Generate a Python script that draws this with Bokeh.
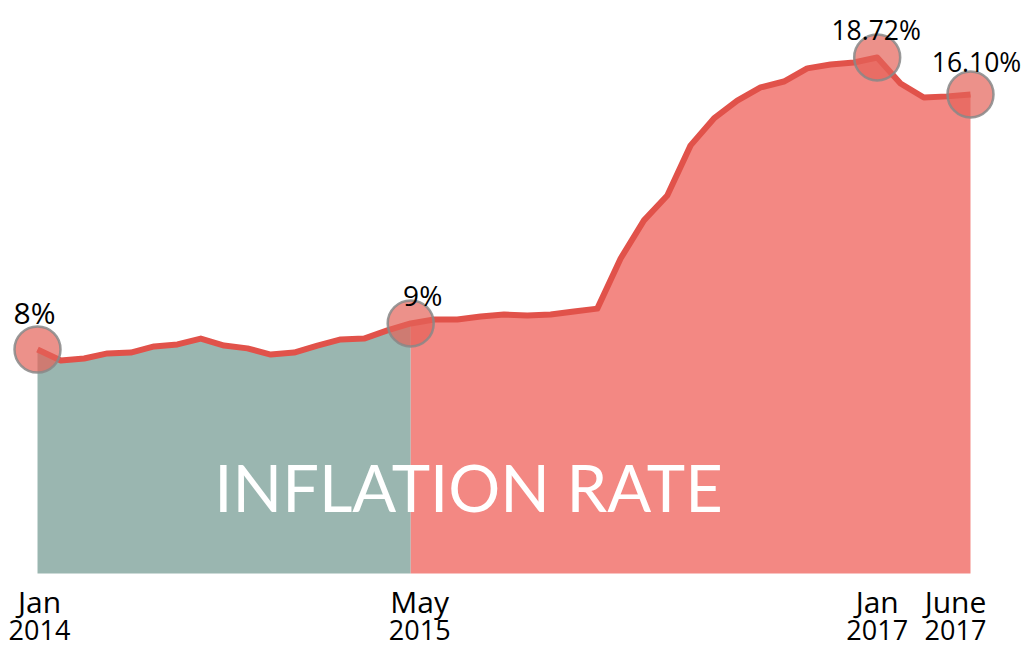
from bokeh.plotting import figure
from bokeh.models import ColumnDataSource, Label, Range1d
from bokeh.core.properties import value
from bokeh.embed import file_html
from bokeh.resources import INLINE

# ---- data ----
inflation = [8.00, 7.61, 7.68, 7.86, 7.89, 8.11, 8.18, 8.39, 8.14, 8.04,
             7.82, 7.89, 8.14, 8.36, 8.39, 8.68, 8.93, 9.07, 9.07, 9.18,
             9.25, 9.21, 9.25, 9.36, 9.46, 11.25, 12.61, 13.50, 15.29, 16.25,
             16.89, 17.36, 17.57, 18.04, 18.18, 18.25, 18.43, 17.50, 17.00, 17.04,
             17.11]
split_index = 16                       # May 2015
highlight_index = [0, 16, 36, 40]
highlight_text = ["8%", "9%", "18.72%", "16.10%"]
tick_index = [0, 16, 36, 40]
tick_month = ["Jan", "May", "Jan", "June"]
tick_year = ["2014", "2015", "2017", "2017"]
title_text = "INFLATION RATE"

x = list(range(len(inflation)))

W, H = 1027, 650
p = figure(width=W, height=H, output_backend="svg", toolbar_location=None,
           x_range=Range1d(-1.5863, 42.444), y_range=Range1d(-2.750, 20.464),
           min_border=0, outline_line_color=None, background_fill_color="white",
           border_fill_color="white")
p.axis.visible = False
p.grid.visible = False

# areas
xs_g = x[:split_index + 1]
ys_g = inflation[:split_index + 1]
xs_r = x[split_index:]
ys_r = inflation[split_index:]
p.varea(x=xs_g, y1=[0] * len(xs_g), y2=ys_g, fill_color="#9ab6b0")
p.varea(x=xs_r, y1=[0] * len(xs_r), y2=ys_r, fill_color="#f38883")

# line
p.line(x=x, y=inflation, line_color="#e1524a", line_width=6, line_join="round")

# highlighted circles
hx = highlight_index
hy = [inflation[i] for i in highlight_index]
p.scatter(x=hx, y=hy, size=46, marker="circle", fill_color="#e46258",
          fill_alpha=0.7, line_color="#888888", line_alpha=0.85, line_width=2.5)

hsrc = ColumnDataSource(dict(x=hx, y=hy, t=highlight_text,
                             xo=[-3, 12, -1, 6], yo=[-37, -28, -27, -32],
                             fs=["30px", "28px", "26.5px", "26.5px"]))
p.text(x="x", y="y", text="t", source=hsrc, x_offset="xo", y_offset="yo",
       text_font_size="fs", text_align="center", text_baseline="alphabetic",
       text_color="black", text_font=value("Open Sans"))

# tick labels (two lines)
tsrc = ColumnDataSource(dict(x=tick_index, y=[0] * len(tick_index),
                             m=tick_month, yr=tick_year,
                             xo=[2, 9, 0, -15]))
p.text(x="x", y="y", text="m", source=tsrc, x_offset="xo", y_offset=28,
       text_font_size="30px", text_align="center", text_baseline="alphabetic",
       text_color="black", text_font=value("Open Sans"))
p.text(x="x", y="y", text="yr", source=tsrc, x_offset="xo", y_offset=57,
       text_font_size="27px", text_align="center", text_baseline="alphabetic",
       text_color="black", text_font=value("Open Sans"))

# big title inside the chart
p.add_layout(Label(x=468, y=164, x_units="screen", y_units="screen",
                   text=title_text, text_align="center", text_baseline="middle",
                   text_font_size="65px", text_color="white",
                   text_font="Lato"))

open("out.html", "w").write(file_html(p, INLINE))
